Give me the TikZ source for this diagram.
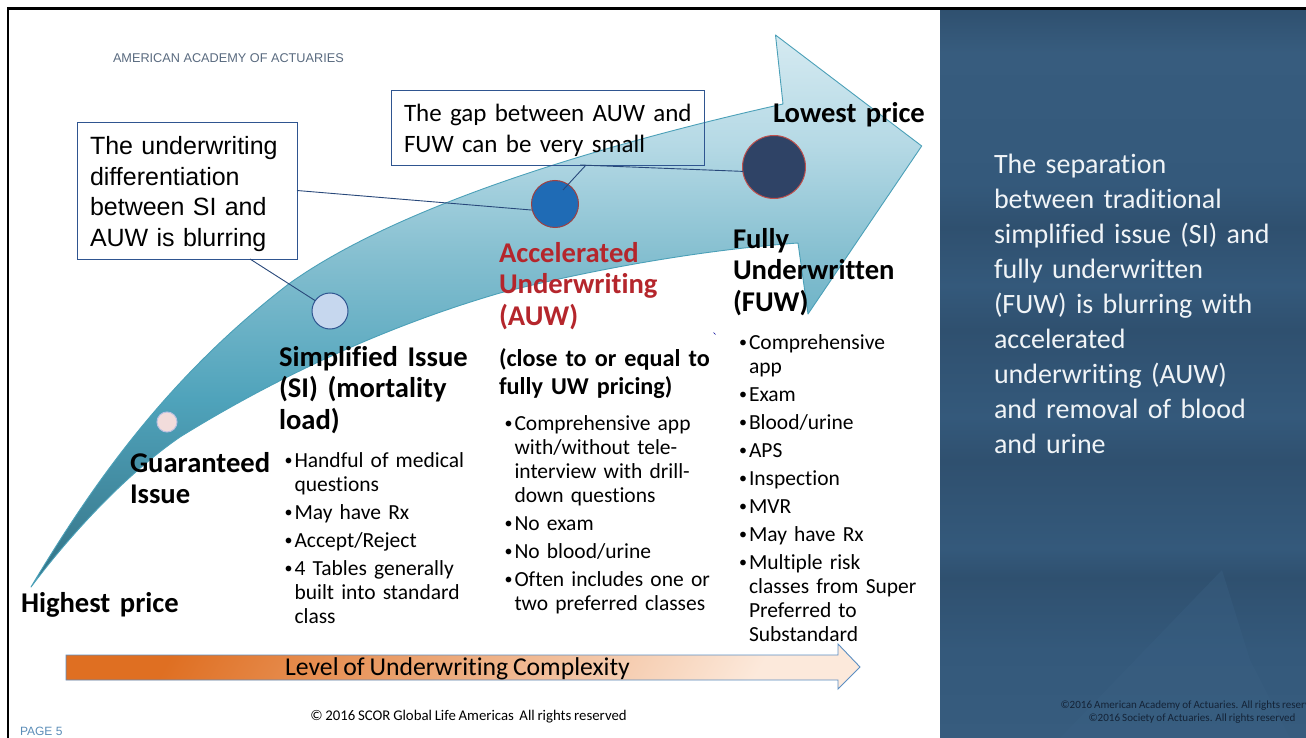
\documentclass[tikz,border=0pt]{standalone}
\usepackage{fontspec}
\setmainfont[Ligatures=NoCommon,WordSpace=0.82]{Carlito}
\newfontfamily\arialf{Liberation Sans}
\usetikzlibrary{calc}
\definecolor{edgeteal}{HTML}{4BA0B8}
\definecolor{boxblue}{HTML}{2F5590}
\definecolor{aaared}{HTML}{B5262C}
\definecolor{panelA}{HTML}{34597B}
\definecolor{panelB}{HTML}{2F506F}
\definecolor{panelC}{HTML}{375C7E}
\definecolor{panelD}{HTML}{3A6083}
\definecolor{orangeL}{HTML}{DF6F22}
\definecolor{orangeR}{HTML}{FCE9DB}
\definecolor{arrA}{HTML}{2F7184}
\definecolor{arrB}{HTML}{3E8398}
\definecolor{arrC}{HTML}{4FA3BB}
\definecolor{arrD}{HTML}{85BFD0}
\definecolor{arrE}{HTML}{B5D9E5}
\definecolor{arrF}{HTML}{D5EAF1}
\definecolor{giFill}{HTML}{F2DCDB}
\definecolor{giEdge}{HTML}{B9C0E0}
\definecolor{siFill}{HTML}{C6D7EE}
\definecolor{auwFill}{HTML}{1F6BB5}
\definecolor{auwEdge}{HTML}{A04040}
\definecolor{fuwFill}{HTML}{2F4366}
\definecolor{fuwEdge}{HTML}{C0504D}
\definecolor{aaaGrey}{HTML}{5A6B80}
\definecolor{pageBlue}{HTML}{5B8DB8}
\definecolor{noteWhite}{HTML}{F0F4F7}
\definecolor{footDark}{HTML}{142337}
\definecolor{barEdge}{HTML}{5B8EC2}
\pgfdeclareverticalshading{bigarrow}{100bp}{
color(0bp)=(arrA);
color(25bp)=(arrA);
color(31bp)=(arrB);
color(42bp)=(arrC);
color(55bp)=(arrD);
color(65bp)=(arrE);
color(75bp)=(arrF);
color(100bp)=(arrF)}
\pgfdeclareverticalshading{panelbands}{100bp}{
color(0bp)=(panelA);
color(25bp)=(panelC);
color(31bp)=(panelA);
color(36bp)=(panelB);
color(38bp)=(panelA);
color(44bp)=(panelB);
color(47bp)=(panelA);
color(53bp)=(panelB);
color(56bp)=(panelA);
color(60bp)=(panelB);
color(63bp)=(panelA);
color(72bp)=(panelC);
color(75bp)=(panelB);
color(100bp)=(panelB)}
\newcommand{\bul}{\makebox[11.5pt][l]{\hspace{1.5pt}\raisebox{1.2pt}{\fontsize{16}{24}\selectfont •}}}
\newcommand{\ind}{\hspace*{11.5pt}}
\tikzset{
  x=1pt,y=-1pt,
  txt/.style={inner sep=0pt,outer sep=0pt,anchor=base west,align=left},
  head/.style={txt,font=\fontsize{28.6}{31.6}\selectfont\bfseries,text width=215pt},
  listing/.style={txt,font=\fontsize{21.5}{24}\selectfont,text width=225pt},
  dot/.style={circle,inner sep=0pt,outer sep=0pt,line width=1pt},
  callout/.style={draw=boxblue,line width=0.9pt,inner sep=0pt,outer sep=0pt,rectangle},
  leader/.style={draw=boxblue!85!black,line width=0.9pt},
}
\begin{document}
\begin{tikzpicture}
\useasboundingbox (0,0) rectangle (1306,738);
% slide frame
\fill[white] (0,0) rectangle (1306,738);
\shade[shading=panelbands] (940,9) rectangle (1306,738);
\fill[panelD,opacity=.4] (1222,570) -- (1060,738) -- (1290,738) -- (1250,660) -- cycle;
\draw[black,line width=2.4pt] (7.8,738) -- (7.8,8.6) -- (1306,8.6);
% big arrow
\shade[shading=bigarrow] (31,587)
  .. controls (95,480) and (170,375) .. (290,283)
  .. controls (400,205) and (600,145) .. (783,104)
  -- (775.5,35) -- (921.7,146) -- (808,314) -- (798,243)
  .. controls (700,250) and (590,270) .. (500,293)
  .. controls (390,325) and (280,375) .. (180,437)
  .. controls (125,475) and (70,535) .. (31,587) -- cycle;
\draw[edgeteal,line width=0.9pt,line join=round] (31,587)
  .. controls (95,480) and (170,375) .. (290,283)
  .. controls (400,205) and (600,145) .. (783,104)
  -- (775.5,35) -- (921.7,146) -- (808,314) -- (798,243)
  .. controls (700,250) and (590,270) .. (500,293)
  .. controls (390,325) and (280,375) .. (180,437)
  .. controls (125,475) and (70,535) .. (31,587) -- cycle;
% complexity arrow
\draw[draw=barEdge,line width=0.9pt,left color=orangeL,right color=orangeR,shading angle=60]
  (66,655) -- (838,655) -- (838,644) -- (860,667) -- (838,689) -- (838,680) -- (66,680) -- cycle;
% circles
\node[dot,minimum size=20pt,fill=giFill,draw=giEdge] (gi) at (167,422) {};
\node[dot,minimum size=36pt,fill=siFill,draw=boxblue] (si) at (330,311) {};
\node[dot,minimum size=47pt,fill=auwFill,draw=auwEdge] (auw) at (555,204) {};
\node[dot,minimum size=63pt,fill=fuwFill,draw=fuwEdge] (fuw) at (774,167) {};
% callouts
\node[callout,minimum width=220pt,minimum height=137pt] (boxa) at (187,190.5) {};
\node[callout,minimum width=313pt,minimum height=75pt] (boxb) at (547.5,127.5) {};
\node[txt,font=\arialf\fontsize{25}{30.5}\selectfont,text width=210pt] (boxatext) at (90,155) {The underwriting\\differentiation\\between SI and\\AUW is blurring};
\node[txt,font=\fontsize{25}{31}\selectfont,text width=300pt] (boxbtext) at (404,122) {The gap between AUW and\\FUW can be very small};
\coordinate (boxafoot) at (250,259);
\coordinate (boxbfoot) at (586,165);
\coordinate (boxbfootb) at (580,165);
\coordinate (auwin) at (563,190);
\draw[leader] (boxa.east) -- (auw.195);
\draw[leader] (boxafoot) -- (si.145);
\draw[leader] (boxbfoot) -- (auwin);
\draw[leader] (boxbfootb) -- (fuw.188);
% headings
\node[txt,font=\arialf\fontsize{12.7}{15}\selectfont,text=aaaGrey] (aaa) at (113,63) {AMERICAN ACADEMY OF ACTUARIES};
\node[head] (high) at (21,612) {Highest price};
\node[head] (low) at (773,123) {Lowest price};
\node[head] (gihead) at (130,472) {Guaranteed\\Issue};
\node[head] (sihead) at (279,366) {Simplified Issue\\(SI) (mortality\\load)};
\node[head,text=aaared] (auwhead) at (499,262) {Accelerated\\Underwriting\\(AUW)};
\node[txt,font=\fontsize{24.2}{28}\selectfont\bfseries,text width=225pt] (auwsub) at (499,366) {(close to or equal to\\fully UW pricing)};
\node[head] (fuwhead) at (733,248) {Fully\\Underwritten\\(FUW)};
% lists
\node[listing] (silist) at (283,467) {\bul Handful of medical\\\ind questions\\[4pt]\bul May have Rx\\[4pt]\bul Accept/Reject\\[4pt]\bul 4 Tables generally\\\ind built into standard\\\ind class};
\node[listing] (auwlist) at (503,430) {\bul Comprehensive app\\\ind with/without tele-\\\ind interview with drill-\\\ind down questions\\[4pt]\bul No exam\\[4pt]\bul No blood/urine\\[4pt]\bul Often includes one or\\\ind two preferred classes};
\node[listing] (fuwlist) at (737.5,349) {\bul Comprehensive\\\ind app\\[4pt]\bul Exam\\[4pt]\bul Blood/urine\\[4pt]\bul APS\\[4pt]\bul Inspection\\[4pt]\bul MVR\\[4pt]\bul May have Rx\\[4pt]\bul Multiple risk\\\ind classes from Super\\\ind Preferred to\\\ind Substandard};
\draw[blue!60!black,line width=0.6pt] (713.5,332.5) -- (715.5,334.5);
% bottom
\node[inner sep=0pt,font=\fontsize{25.7}{28}\selectfont] (level) at (457.5,669) {Level of Underwriting Complexity};
\node[inner sep=0pt,font=\fontsize{14.8}{17}\selectfont] (copy) at (468.5,717) {© 2016 SCOR Global Life Americas\ \ All rights reserved};
\node[txt,font=\arialf\fontsize{12}{14}\selectfont,text=pageBlue] (page) at (20,735) {PAGE 5};
% right panel
\node[txt,font=\fontsize{28}{34.9}\selectfont,text width=300pt,text=noteWhite] (note) at (994,174) {The separation\\between traditional\\simplified issue (SI) and\\fully underwritten\\(FUW) is blurring with\\accelerated\\underwriting (AUW)\\and removal of blood\\and urine};
\begin{scope}
\clip (940,690) rectangle (1306,730);
\node[txt,font=\fontsize{11.05}{13}\selectfont,text=footDark] (aaacopy) at (1060.5,708) {©2016 American Academy of Actuaries. All rights reserved};
\node[txt,font=\fontsize{11.05}{13}\selectfont,text=footDark] (soacopy) at (1088.5,721) {©2016 Society of Actuaries. All rights reserved};
\end{scope}
\end{tikzpicture}
\end{document}
